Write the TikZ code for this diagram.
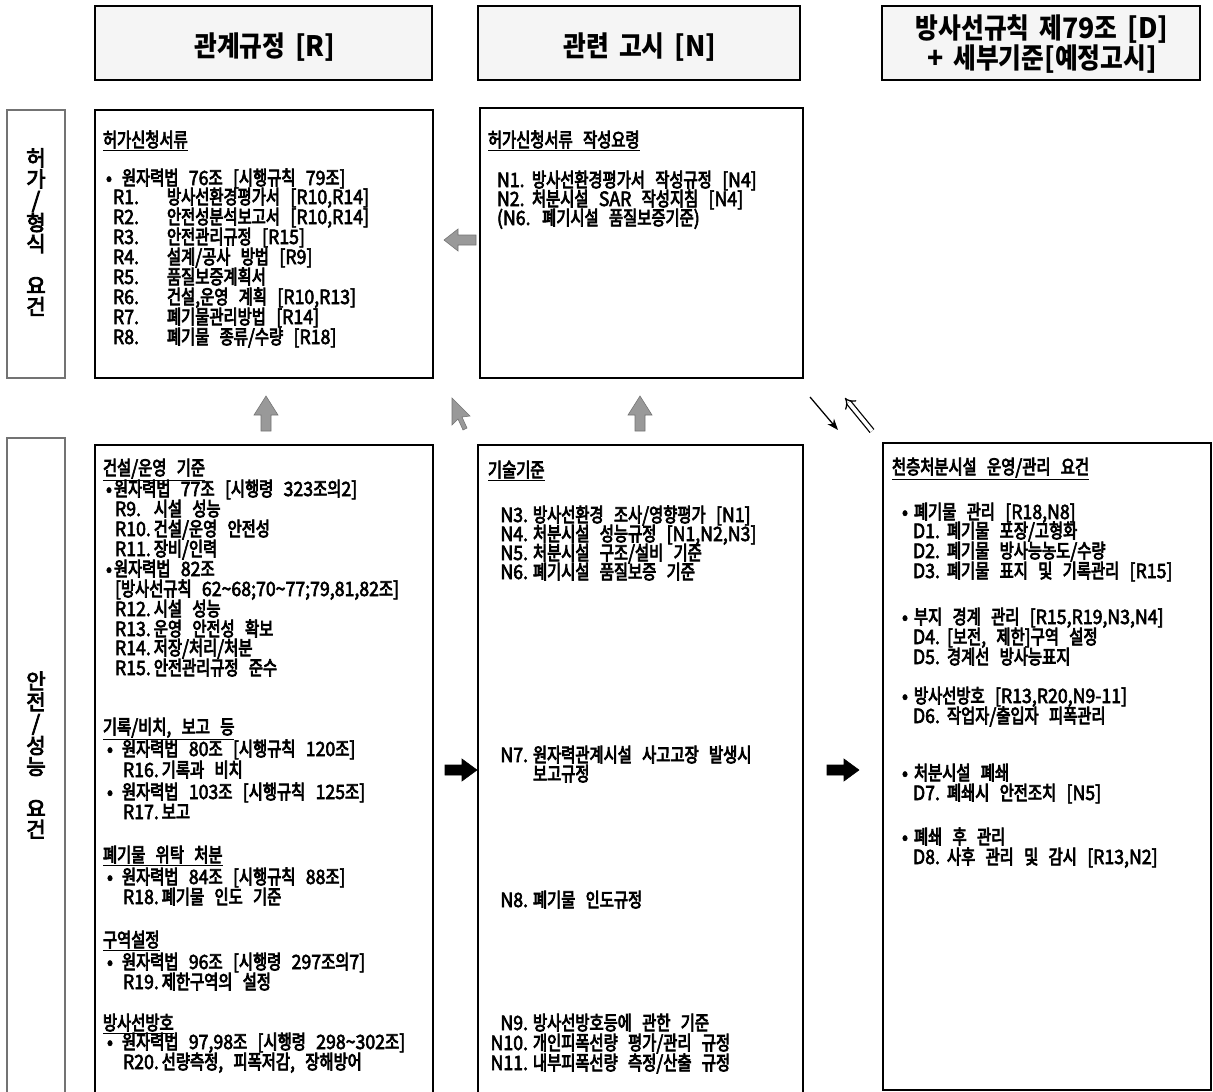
\documentclass[tikz,border=0pt]{standalone}
\usepackage{fontspec}
\setmainfont[FakeStretch=0.9,FakeBold=3,WordSpace=2.6]{Noto Sans CJK KR}
\newfontfamily\krfont[FakeStretch=0.78,FakeBold=4]{Noto Sans CJK KR}
\newfontfamily\latfont[FakeStretch=0.9,FakeBold=3,WordSpace=2.6]{Noto Sans CJK KR}
\newfontfamily\hdkr[FakeStretch=0.88]{Noto Sans CJK KR}
\newfontfamily\hdlat[FakeStretch=0.95,WordSpace=1.6]{Noto Sans CJK KR}
\newfontfamily\vkr[FakeBold=4]{Noto Sans CJK KR}
\usetikzlibrary{arrows.meta,fit}

% switch font between Hangul and Latin runs
\def\krsw{\krfont}
\def\latsw{\latfont}
\chardef\krclass=7
\newcount\krcnt
\krcnt="AC00
\loop
  \XeTeXcharclass\krcnt=\krclass
  \ifnum\krcnt<"D7A3 \advance\krcnt by 1
\repeat
\XeTeXinterchartokenstate=1
\XeTeXinterchartoks 0 \krclass = {\krsw}
\XeTeXinterchartoks 4095 \krclass = {\krsw}
\XeTeXinterchartoks \krclass 0 = {\latsw}
\XeTeXinterchartoks \krclass 4095 = {\latsw}

\newcommand\bul[1]{\makebox[#1][l]{•}}
\newcommand\RA[2]{\makebox[1.35cm][l]{#1}#2}
\newcommand\RB[2]{\makebox[0.97cm][l]{#1}#2}
\newcommand\RC[2]{\makebox[0.97cm][l]{#1}#2}
\newcommand\NA[2]{\makebox[0.875cm][l]{#1}#2}
\newcommand\NB[2]{\makebox[1.0cm][r]{#1}\hspace{0.125cm}#2}
\newcommand\RD[2]{\makebox[0.85cm][l]{#1}#2}

\begin{document}
\begin{tikzpicture}[x=0.025cm,y=-0.025cm,
  box/.style={draw=black, line width=1.5pt, inner sep=0pt},
  hbox/.style={draw=black, line width=1.4pt, fill=black!4, inner sep=0pt},
  vbox/.style={draw=black!55, line width=1.3pt, inner sep=0pt},
  tx/.style={anchor=base west, inner sep=0pt, outer sep=0pt, text height=10pt, text depth=1.5pt, font=\fontsize{14}{14}\selectfont},
  hd/.style={font={\let\krsw\hdkr\let\latsw\hdlat\hdlat\bfseries\fontsize{20}{18.5}\selectfont}, align=center, inner sep=0pt},
  vlab/.style={font={\let\krsw\vkr\let\latsw\vkr\vkr\fontsize{15}{14.9}\selectfont}, align=center, inner sep=0pt},
  garrow/.style={fill=black!40, draw=black!55, line width=0.4pt},
  barrow/.style={fill=black, draw=black, line width=0.4pt},
  larrow/.pic={\path[garrow] (16,-5) -- (-2,-5) -- (-2,-11) -- (-16,0) -- (-2,11) -- (-2,5) -- (16,5) -- cycle;},
  uarrow/.pic={\path[garrow] (-5,18) -- (-5,2) -- (-12,2) -- (0,-17) -- (12,2) -- (5,2) -- (5,18) -- cycle;},
  rarrow/.pic={\path[barrow] (-16,-5) -- (1,-5) -- (1,-11) -- (16,0) -- (1,11) -- (1,5) -- (-16,5) -- cycle;},
  cursor/.pic={\path[garrow] (0,0) -- (0,27) -- (6,21) -- (11,32) -- (15,30) -- (10,19) -- (18,18) -- cycle;},
]
\fill[white] (0,0) rectangle (1213,1092);
\useasboundingbox (0,0) rectangle (1213,1092);

% headers
\node[hbox, fit={(95,6) (432,80)}] (h1) {};
\node[hbox, fit={(478,6) (800,80)}] (h2) {};
\node[hbox, fit={(882,6) (1200,80)}] (h3) {};
\node[hd] (h1t) at (265,47) {관계규정 [R]};
\node[hd] (h2t) at (640,47) {관련 고시 [N]};
\node[hd] (h3t) at (1042,44) {방사선규칙 제79조 [D]\\+ 세부기준[예정고시]};

% side labels
\node[vbox, fit={(7,110) (65,378)}] (v1) {};
\node[vbox, fit={(7,438) (65,1100)}] (v2) {};
\node[vlab] (v1t) at (36,232) {허\\가\\/\\형\\식\\[0.525cm]요\\건};
\node[vlab] (v2t) at (36,755) {안\\전\\/\\성\\능\\[0.525cm]요\\건};

% content boxes
\node[box, fit={(95,110) (433,378)}] (tl) {};
\node[box, fit={(480,108) (803,378)}] (tm) {};
\node[box, fit={(95,445) (433,1100)}] (bl) {};
\node[box, fit={(478,445) (803,1100)}] (bm) {};
\node[box, fit={(883,443) (1211,1090)}] (br) {};

% arrows
\pic (a1) at (460,240) {larrow};
\pic (a2) at (266,413) {uarrow};
\pic (a3) at (640,413) {uarrow};
\pic (a4) at (452,398) {cursor};
\pic (a5) at (461,770) {rarrow};
\pic (a6) at (843,770) {rarrow};
\coordinate (d1s) at (810,397);
\coordinate (d1e) at (838,430);
\draw[line width=0.9pt, -{Stealth[length=8pt,width=6pt]}] (d1s) -- (d1e);
\coordinate (d2s) at (872,431);
\coordinate (d2e) at (845,398);
\draw[double, double distance=2.6pt, line width=0.9pt, -{Implies}] (d2s) -- (d2e);

% top-left
\node[tx] (tlT) at (103,147) {\underline{허가신청서류}};
\node[tx] (tlB) at (106,185) {\bul{0.4cm}원자력법 76조 [시행규칙 79조]};
\foreach \t [count=\i from 0] in {
 {\RA{R1.}{방사선환경평가서 [R10,R14]}},
 {\RA{R2.}{안전성분석보고서 [R10,R14]}},
 {\RA{R3.}{안전관리규정 [R15]}},
 {\RA{R4.}{설계/공사 방법 [R9]}},
 {\RA{R5.}{품질보증계획서}},
 {\RA{R6.}{건설,운영 계획 [R10,R13]}},
 {\RA{R7.}{폐기물관리방법 [R14]}},
 {\RA{R8.}{폐기물 종류/수량 [R18]}}
}{\node[tx] (tlR\i) at (113,{204+20*\i}) {\t};}

% top-middle
\node[tx] (tmT) at (488,147) {\underline{허가신청서류 작성요령}};
\node[tx] (tm1) at (497,187) {\NA{N1.}{방사선환경평가서 작성규정 [N4]}};
\node[tx] (tm2) at (497,206) {\NA{N2.}{처분시설 SAR 작성지침 [N4]}};
\node[tx] (tm3) at (497,225) {(N6. 폐기시설 품질보증기준)};

% bottom-left
\node[tx] (blT1) at (103,475) {\underline{건설/운영 기준}};
\node[tx] (blB1) at (106,496) {\bul{0.2cm}원자력법 77조 [시행령 323조의2]};
\node[tx] (blR9) at (115,516) {\RB{R9.}{시설 성능}};
\node[tx] (blR10) at (115,536) {\RB{R10.}{건설/운영 안전성}};
\node[tx] (blR11) at (115,556) {\RB{R11.}{장비/인력}};
\node[tx] (blB2) at (106,576) {\bul{0.2cm}원자력법 82조};
\node[tx] (blL) at (115,596) {[방사선규칙 62\textasciitilde68;70\textasciitilde77;79,81,82조]};
\node[tx] (blR12) at (115,616) {\RB{R12.}{시설 성능}};
\node[tx] (blR13) at (115,636) {\RB{R13.}{운영 안전성 확보}};
\node[tx] (blR14) at (115,655) {\RB{R14.}{저장/처리/처분}};
\node[tx] (blR15) at (115,675) {\RB{R15.}{안전관리규정 준수}};

\node[tx] (blT2) at (103,734) {\underline{기록/비치, 보고 등}};
\node[tx] (blB3) at (107,756) {\bul{0.375cm}원자력법 80조 [시행규칙 120조]};
\node[tx] (blR16) at (123,777) {\RC{R16.}{기록과 비치}};
\node[tx] (blB4) at (107,799) {\bul{0.375cm}원자력법 103조 [시행규칙 125조]};
\node[tx] (blR17) at (123,819) {\RC{R17.}{보고}};

\node[tx] (blT3) at (103,862) {\underline{폐기물 위탁 처분}};
\node[tx] (blB5) at (107,884) {\bul{0.375cm}원자력법 84조 [시행규칙 88조]};
\node[tx] (blR18) at (123,904) {\RC{R18.}{폐기물 인도 기준}};

\node[tx] (blT4) at (103,947) {\underline{구역설정}};
\node[tx] (blB6) at (107,969) {\bul{0.375cm}원자력법 96조 [시행령 297조의7]};
\node[tx] (blR19) at (123,989) {\RC{R19.}{제한구역의 설정}};

\node[tx] (blT5) at (103,1030) {\underline{방사선방호}};
\node[tx] (blB7) at (107,1049) {\bul{0.375cm}원자력법 97,98조 [시행령 298\textasciitilde302조]};
\node[tx] (blR20) at (123,1069) {\RC{R20.}{선량측정, 피폭저감, 장해방어}};

% bottom-middle
\node[tx] (bmT) at (488,477) {\underline{기술기준}};
\node[tx] (bmN3) at (488,522) {\NB{N3.}{방사선환경 조사/영향평가 [N1]}};
\node[tx] (bmN4) at (488,541) {\NB{N4.}{처분시설 성능규정 [N1,N2,N3]}};
\node[tx] (bmN5) at (488,560) {\NB{N5.}{처분시설 구조/설비 기준}};
\node[tx] (bmN6) at (488,579) {\NB{N6.}{폐기시설 품질보증 기준}};
\node[tx] (bmN7) at (488,762) {\NB{N7.}{원자력관계시설 사고고장 발생시}};
\node[tx] (bmN7b) at (533,781) {보고규정};
\node[tx] (bmN8) at (488,907) {\NB{N8.}{폐기물 인도규정}};
\node[tx] (bmN9) at (488,1030) {\NB{N9.}{방사선방호등에 관한 기준}};
\node[tx] (bmN10) at (488,1050) {\NB{N10.}{개인피폭선량 평가/관리 규정}};
\node[tx] (bmN11) at (488,1070) {\NB{N11.}{내부피폭선량 측정/산출 규정}};

% right
\node[tx] (brT) at (892,474) {\underline{천층처분시설 운영/관리 요건}};
\node[tx] (brB1) at (902,519) {\bul{0.3cm}폐기물 관리 [R18,N8]};
\node[tx] (brD1) at (913,538) {\RD{D1.}{폐기물 포장/고형화}};
\node[tx] (brD2) at (913,558) {\RD{D2.}{폐기물 방사능농도/수량}};
\node[tx] (brD3) at (913,578) {\RD{D3.}{폐기물 표지 및 기록관리 [R15]}};
\node[tx] (brB2) at (902,624) {\bul{0.3cm}부지 경계 관리 [R15,R19,N3,N4]};
\node[tx] (brD4) at (913,644) {\RD{D4.}{[보전, 제한]구역 설정}};
\node[tx] (brD5) at (913,664) {\RD{D5.}{경계선 방사능표지}};
\node[tx] (brB3) at (902,703) {\bul{0.3cm}방사선방호 [R13,R20,N9-11]};
\node[tx] (brD6) at (913,723) {\RD{D6.}{작업자/출입자 피폭관리}};
\node[tx] (brB4) at (902,780) {\bul{0.3cm}처분시설 폐쇄};
\node[tx] (brD7) at (913,800) {\RD{D7.}{폐쇄시 안전조치 [N5]}};
\node[tx] (brB5) at (902,844) {\bul{0.3cm}폐쇄 후 관리};
\node[tx] (brD8) at (913,864) {\RD{D8.}{사후 관리 및 감시 [R13,N2]}};
\end{tikzpicture}
\end{document}
